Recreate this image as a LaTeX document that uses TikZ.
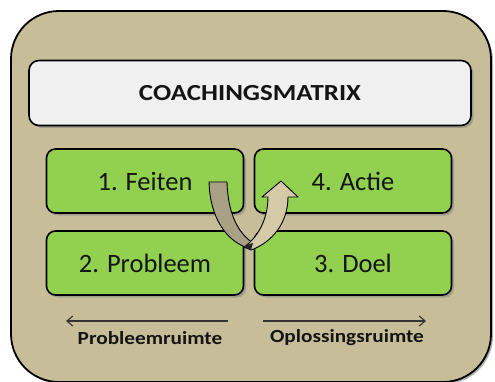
\documentclass[tikz,border=0pt]{standalone}
\usepackage{fontspec}
\setmainfont{Carlito}
\usetikzlibrary{shadows,arrows.meta}
\definecolor{bgbeige}{RGB}{199,190,153}
\definecolor{titlefill}{RGB}{240,240,240}
\definecolor{boxgreen}{RGB}{146,208,80}
\definecolor{armdark}{RGB}{168,161,134}
\definecolor{armlight}{RGB}{212,202,168}
\definecolor{txtdark}{RGB}{20,20,20}
\tikzset{
  outerbox/.style={draw=black, line width=1.8pt, fill=bgbeige, rounded corners=48pt,
    drop shadow={opacity=0.6, shadow xshift=2pt, shadow yshift=-2pt}},
  titlebox/.style={draw=black, line width=1.6pt, fill=titlefill, rounded corners=10pt,
    minimum width=442pt, minimum height=65pt, inner sep=0pt,
    drop shadow={opacity=0.5, shadow xshift=2.5pt, shadow yshift=-2.5pt},
    font=\fontsize{23}{26}\selectfont\bfseries, text=txtdark},
  greenbox/.style={draw=black, line width=1.6pt, fill=boxgreen, rounded corners=9pt,
    minimum width=197pt, minimum height=64pt, inner sep=0pt,
    drop shadow={opacity=0.5, shadow xshift=2.5pt, shadow yshift=-2.5pt},
    font=\fontsize{26.5}{30}\selectfont, text=txtdark},
  spacelabel/.style={font=\fontsize{18.5}{21}\selectfont\bfseries, text=txtdark, inner sep=0pt},
  spacearrow/.style={draw=black!80, line width=1.1pt, -{Straight Barb[length=6pt,width=10pt]}},
  armstyle/.style={draw=black, line width=0.9pt, line join=round}
}
\begin{document}
\begin{tikzpicture}[x=1pt,y=-1pt]
\useasboundingbox (0,0) rectangle (495,382);
\fill[white] (0,0) rectangle (495,382);
\path[outerbox] (11,11) rectangle (491,382);
\node[titlebox] (title) at (250,93) {\scalebox{1.17}[1]{COACHINGSMATRIX}};
\node[greenbox] (feiten) at (145,181) {1. Feiten};
\node[greenbox] (actie) at (353,181) {4. Actie};
\node[greenbox] (probleem) at (145,263) {2. Probleem};
\node[greenbox] (doel) at (353,263) {3. Doel};
% U-turn arrow
\path[armstyle, fill=armdark]
  (209,182) -- (227,182)
  .. controls (228,214) and (238,233) .. (253,243)
  -- (251,249)
  .. controls (225,242) and (210,216) .. cycle;
\path[armstyle, fill=armlight]
  (244,247) .. controls (260,236) and (268,216) .. (268,197)
  -- (262,197) -- (281,181) -- (298,197) -- (288,197)
  .. controls (288,222) and (273,242) .. (251,250) -- cycle;
\fill[black!85] (244,247) -- (251,250) -- (253,243) -- (249,244) -- cycle;
% bottom labels and arrows
\coordinate (la) at (228,321);
\coordinate (lb) at (66,321);
\coordinate (ra) at (263,321);
\coordinate (rb) at (426,321);
\draw[spacearrow] (la) -- (lb);
\draw[spacearrow] (ra) -- (rb);
\node[spacelabel] (plabel) at (150,338) {\scalebox{1.15}[1]{Probleemruimte}};
\node[spacelabel] (olabel) at (347,338) {\scalebox{1.15}[1]{Oplossingsruimte}};
\end{tikzpicture}
\end{document}
